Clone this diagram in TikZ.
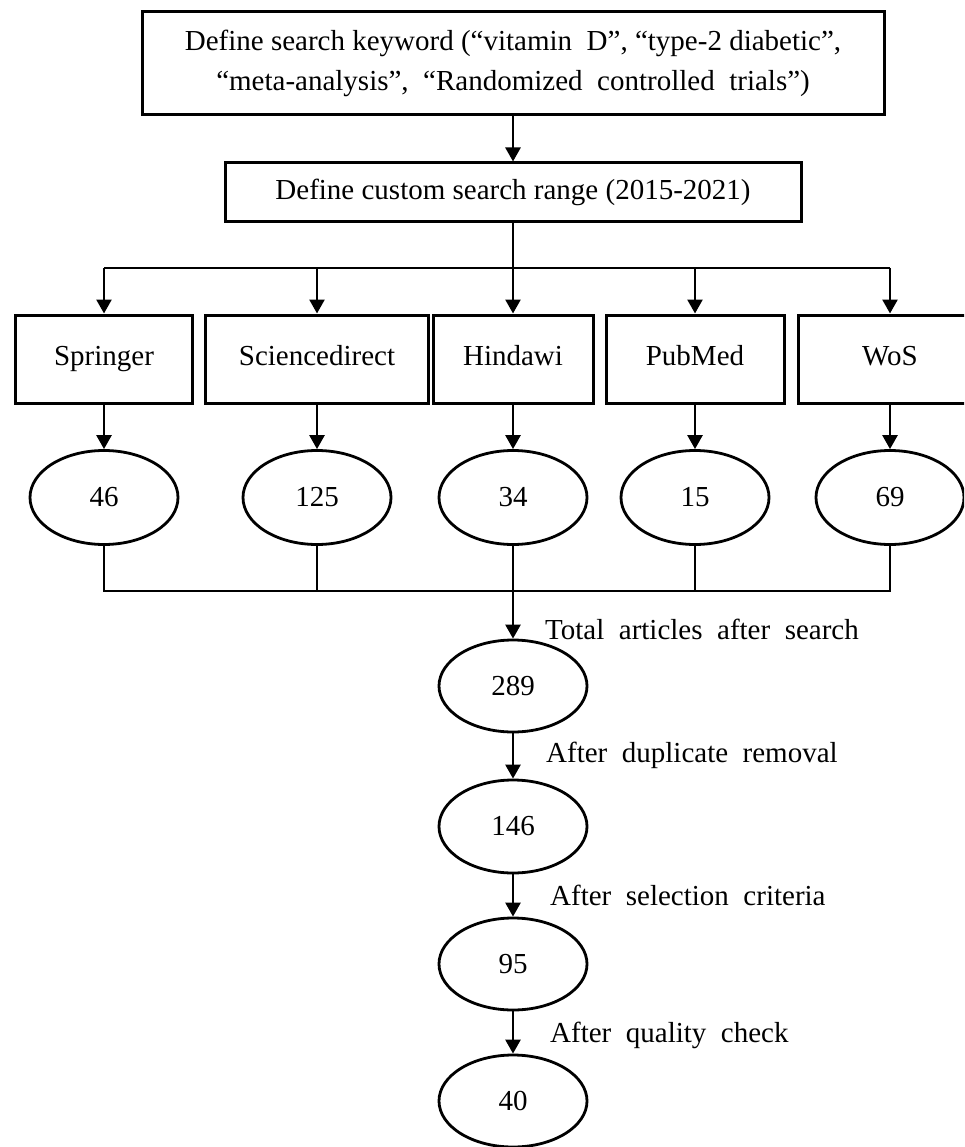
\documentclass[tikz,border=0pt]{standalone}
\usepackage{fontspec}
\setmainfont{Liberation Serif}
\usetikzlibrary{shapes.geometric,arrows.meta}
\tikzset{
  box/.style={draw, line width=3pt, inner sep=0pt, align=center, font=\fontsize{29}{40}\selectfont},
  srcbox/.style={box, minimum height=88pt, text height=20pt, text depth=7pt},
  oval/.style={draw, ellipse, line width=2.8pt, minimum width=148pt, minimum height=94pt, inner sep=0pt, font=\fontsize{29}{34}\selectfont},
  conn/.style={line width=2.6pt, -{Triangle[length=14pt,width=15pt]}},
  wire/.style={line width=2.6pt},
  lbl/.style={anchor=west, inner sep=0pt, font=\fontsize{29}{34}\selectfont}
}
\begin{document}
\begin{tikzpicture}[x=1pt,y=-1pt]
\useasboundingbox (0,0) rectangle (964,1147);
\fill[white] (0,0) rectangle (964,1147);
\begin{scope}
\clip (0,0) rectangle (964,1147);
% top boxes
\node[box, minimum width=742pt, minimum height=103pt] (kw) at (513,63.5)
  {Define search keyword (“vitamin\ \ D”, “type-2 diabetic”,\\“meta-analysis”,\ \ “Randomized\ \ controlled\ \ trials”)};
\node[box, minimum width=576pt, minimum height=59pt] (rng) at (513,192.5)
  {Define custom search range (2015-2021)};
% source boxes
\node[srcbox, minimum width=177pt] (spr) at (104,359) {Springer};
\node[srcbox, minimum width=223pt] (sci) at (317,359) {Sciencedirect};
\node[srcbox, minimum width=160pt] (hin) at (513,359) {Hindawi};
\node[srcbox, minimum width=178pt] (pub) at (695,359) {PubMed};
\node[srcbox, minimum width=184pt] (wos) at (890,359) {WoS};
% count ellipses
\node[oval] (e46) at (104,497.5) {46};
\node[oval] (e125) at (317,497.5) {125};
\node[oval] (e34) at (513,497.5) {34};
\node[oval] (e15) at (695,497.5) {15};
\node[oval] (e69) at (890,497.5) {69};
% chain
\node[oval, minimum height=92pt] (e289) at (513,686) {289};
\node[oval, minimum height=93pt] (e146) at (513,826.5) {146};
\node[oval, minimum height=92pt] (e95) at (513,964) {95};
\node[oval, minimum height=92pt] (e40) at (513,1101) {40};
% labels
\node[lbl] (l1) at (545,629) {Total\ \ articles\ \ after\ \ search};
\node[lbl] (l2) at (546,755) {After\ \ duplicate\ \ removal};
\node[lbl] (l3) at (550,895) {After\ \ selection\ \ criteria};
\node[lbl] (l4) at (550,1035) {After\ \ quality\ \ check};
% connectors
\coordinate (bus) at (513,268);
\coordinate (col) at (513,591);
\draw[conn] (kw.south) -- (rng.north);
\draw[conn] (rng.south) -- (hin.north);
\draw[wire] (spr.north |- bus) -- (wos.north |- bus);
\draw[conn] (spr.north |- bus) -- (spr.north);
\draw[conn] (sci.north |- bus) -- (sci.north);
\draw[conn] (pub.north |- bus) -- (pub.north);
\draw[conn] (wos.north |- bus) -- (wos.north);
\draw[conn] (spr.south) -- (e46.north);
\draw[conn] (sci.south) -- (e125.north);
\draw[conn] (hin.south) -- (e34.north);
\draw[conn] (pub.south) -- (e15.north);
\draw[conn] (wos.south) -- (e69.north);
\draw[wire] (e46.south) -- (e46.south |- col) -- (e69.south |- col) -- (e69.south);
\draw[wire] (e125.south) -- (e125.south |- col);
\draw[wire] (e15.south) -- (e15.south |- col);
\draw[conn] (e34.south) -- (e289.north);
\draw[conn] (e289.south) -- (e146.north);
\draw[conn] (e146.south) -- (e95.north);
\draw[conn] (e95.south) -- (e40.north);
\end{scope}
\end{tikzpicture}
\end{document}
